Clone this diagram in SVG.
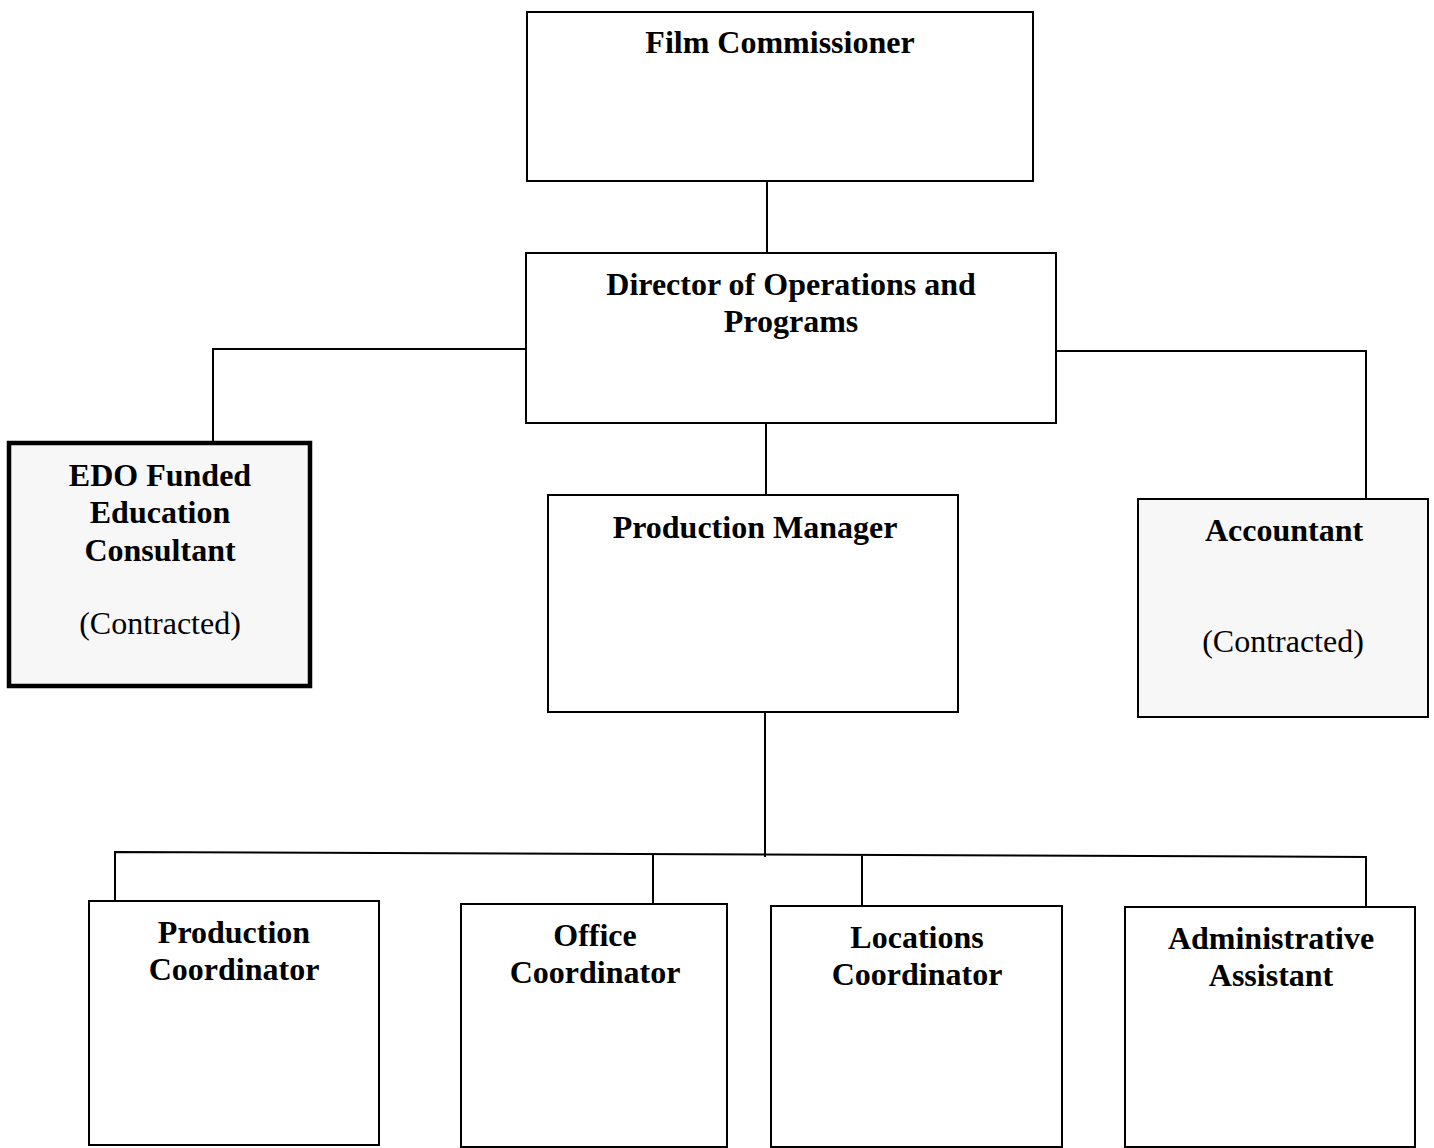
<svg xmlns="http://www.w3.org/2000/svg" width="1434" height="1148" viewBox="0 0 1434 1148">
<defs>
<style>
.box{fill:#ffffff;stroke:#000;stroke-width:2}
.shaded{fill:#f7f7f7;stroke:#000;stroke-width:2}
.thick{fill:#f7f7f7;stroke:#000;stroke-width:4.5}
.t{font-family:"Liberation Serif","Times New Roman",serif;font-size:32px;font-weight:bold;text-anchor:middle;fill:#000}
.r{font-family:"Liberation Serif","Times New Roman",serif;font-size:32px;text-anchor:middle;fill:#000}
.c{fill:none;stroke:#000;stroke-width:2}
</style>
</defs>
<rect width="1434" height="1148" fill="#fff"/>
<g id="connectors">
<path class="c" d="M767,181 V253"/>
<path class="c" d="M526,349 H213 V443"/>
<path class="c" d="M1056,351 H1366 V499"/>
<path class="c" d="M766,423 V495"/>
<path class="c" d="M765,712 V857"/>
<path class="c" d="M115,901 V852 L1366,857 V907"/>
<path class="c" d="M653,855 V904"/>
<path class="c" d="M862,856 V906"/>
</g>
<g id="film-commissioner">
<rect class="box" x="527" y="12" width="506" height="169"/>
<text class="t" x="780" y="53">Film Commissioner</text>
</g>
<g id="director">
<rect class="box" x="526" y="253" width="530" height="170"/>
<text class="t" x="791" y="295">Director of Operations and</text>
<text class="t" x="791" y="332">Programs</text>
</g>
<g id="edo-consultant">
<rect class="thick" x="9" y="443" width="301" height="243"/>
<text class="t" x="160" y="486">EDO Funded</text>
<text class="t" x="160" y="523">Education</text>
<text class="t" x="160" y="561">Consultant</text>
<text class="r" x="160" y="634">(Contracted)</text>
</g>
<g id="production-manager">
<rect class="box" x="548" y="495" width="410" height="217"/>
<text class="t" x="755" y="538">Production Manager</text>
</g>
<g id="accountant">
<rect class="shaded" x="1138" y="499" width="290" height="218"/>
<text class="t" x="1284" y="541">Accountant</text>
<text class="r" x="1283" y="652">(Contracted)</text>
</g>
<g id="production-coordinator">
<rect class="box" x="89" y="901" width="290" height="244"/>
<text class="t" x="234" y="943">Production</text>
<text class="t" x="234" y="980">Coordinator</text>
</g>
<g id="office-coordinator">
<rect class="box" x="461" y="904" width="266" height="243"/>
<text class="t" x="595" y="946">Office</text>
<text class="t" x="595" y="983">Coordinator</text>
</g>
<g id="locations-coordinator">
<rect class="box" x="771" y="906" width="291" height="241"/>
<text class="t" x="917" y="948">Locations</text>
<text class="t" x="917" y="985">Coordinator</text>
</g>
<g id="administrative-assistant">
<rect class="box" x="1125" y="907" width="290" height="240"/>
<text class="t" x="1271" y="949">Administrative</text>
<text class="t" x="1271" y="986">Assistant</text>
</g>
</svg>
